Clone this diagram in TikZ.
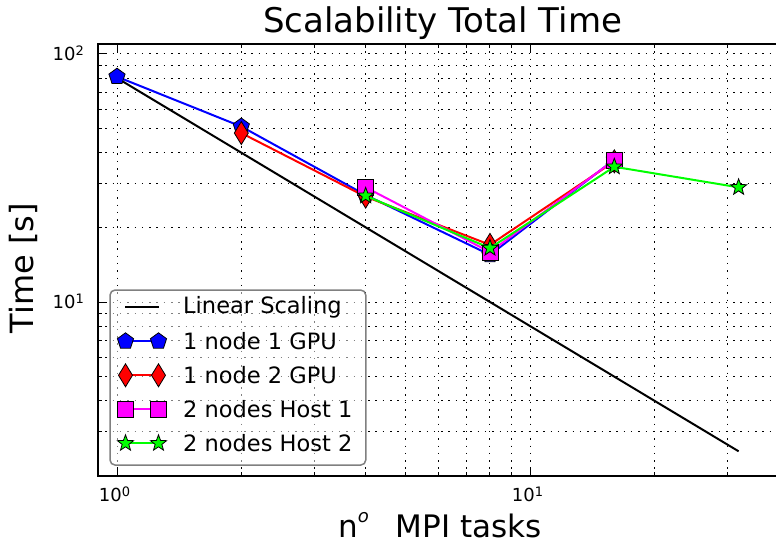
\documentclass[tikz,border=0pt]{standalone}
\usepackage{fontspec}
\setmainfont{DejaVu Sans}
\usetikzlibrary{shapes.geometric}
\definecolor{mpblue}{RGB}{0,0,255}
\definecolor{mpred}{RGB}{255,0,0}
\definecolor{mpmag}{RGB}{255,0,255}
\definecolor{mpgreen}{RGB}{0,255,0}
\definecolor{mpgray}{RGB}{128,128,128}
\newcommand\tenpow[1]{10\raisebox{5pt}{\fontsize{13}{13}\selectfont #1}}
\begin{document}
\begin{tikzpicture}[x=1pt,y=-1pt,
  declare function={px(\v)=117+413*ln(\v)/ln(10); py(\v)=54+248*(2-ln(\v)/ln(10));},
  gridline/.style={black, line width=1pt, dash pattern=on 1.5pt off 5.8pt},
  spine/.style={black, line width=1.5pt},
  tickmark/.style={black, line width=1pt},
  lin/.style={black, line width=2pt},
  ser/.style={line width=2pt},
  mk/.style={draw=black, line width=0.8pt, inner sep=0pt, outer sep=0pt},
  mkpent/.style={mk, fill=mpblue, regular polygon, regular polygon sides=5, minimum size=17pt},
  mkdia/.style={mk, fill=mpred, diamond, minimum width=14pt, minimum height=23pt},
  mksq/.style={mk, fill=mpmag, rectangle, minimum size=16pt},
  mkstar/.style={mk, fill=mpgreen, star, star points=5, star point ratio=2.4, minimum size=17pt},
  ticklab/.style={font=\fontsize{18}{18}\selectfont, inner sep=0pt},
  legtext/.style={font=\fontsize{22.5}{22.5}\selectfont, anchor=west, inner sep=0pt},
]
\useasboundingbox (0,0) rectangle (776,545);
\clip (0,0) rectangle (776,545);
% grid
\foreach \v in {1,2,...,9,10,20,30} \draw[gridline] ({px(\v)},44) -- ({px(\v)},476);
\foreach \v in {3,4,...,9,10,20,30,40,50,60,70,80,90,100} \draw[gridline] (98,{py(\v)}) -- (780,{py(\v)});
% linear scaling
\coordinate (l1) at ({px(1)},{py(80)});
\coordinate (l2) at ({px(32)},{py(2.5)});
\draw[lin] (l1) -- (l2);
% series blue
\coordinate (b1) at ({px(1)},{py(81)});
\coordinate (b2) at ({px(2)},{py(51)});
\coordinate (b4) at ({px(4)},{py(27)});
\coordinate (b8) at ({px(8)},{py(15.5)});
\coordinate (b16) at ({px(16)},{py(37.5)});
\draw[ser, mpblue] (b1) -- (b2) -- (b4) -- (b8) -- (b16);
\foreach \p in {b1,b2,b4,b8,b16} \node[mkpent] (m\p) at (\p) {};
% series red
\coordinate (r2) at ({px(2)},{py(48)});
\coordinate (r4) at ({px(4)},{py(26.6)});
\coordinate (r8) at ({px(8)},{py(17)});
\coordinate (r16) at ({px(16)},{py(36.9)});
\draw[ser, mpred] (r2) -- (r4) -- (r8) -- (r16);
\foreach \p in {r2,r4,r8,r16} \node[mkdia] (m\p) at (\p) {};
% series magenta
\coordinate (s4) at ({px(4)},{py(29)});
\coordinate (s8) at ({px(8)},{py(15.9)});
\coordinate (s16) at ({px(16)},{py(37.4)});
\draw[ser, mpmag] (s4) -- (s8) -- (s16);
\foreach \p in {s4,s8,s16} \node[mksq] (m\p) at (\p) {};
% series green
\coordinate (g4) at ({px(4)},{py(26.8)});
\coordinate (g8) at ({px(8)},{py(16.5)});
\coordinate (g16) at ({px(16)},{py(35.1)});
\coordinate (g32) at ({px(32)},{py(29)});
\draw[ser, mpgreen] (g4) -- (g8) -- (g16) -- (g32);
\foreach \p in {g4,g8,g16,g32} \node[mkstar] (m\p) at (\p) {};
% legend
\node[draw=mpgray, line width=1.5pt, fill=white, fill opacity=0.5, draw opacity=1, rounded corners=5pt,
      minimum width=255.7pt, minimum height=175pt, inner sep=0pt, anchor=north west] (leg) at (109.3,289.3) {};
\coordinate (h1a) at (125,307.3); \coordinate (h1b) at (159,307.3);
\coordinate (h2a) at (125.5,341.3); \coordinate (h2b) at (158.5,341.3);
\coordinate (h3a) at (125.5,375.3); \coordinate (h3b) at (158.5,375.3);
\coordinate (h4a) at (125.5,409.3); \coordinate (h4b) at (158.5,409.3);
\coordinate (h5a) at (125.5,443.3); \coordinate (h5b) at (158.5,443.3);
\draw[lin] (h1a) -- (h1b);
\draw[ser, mpblue] (h2a) -- (h2b);
\node[mkpent] (lp1) at (h2a) {}; \node[mkpent] (lp2) at (h2b) {};
\draw[ser, mpred] (h3a) -- (h3b);
\node[mkdia] (ld1) at (h3a) {}; \node[mkdia] (ld2) at (h3b) {};
\draw[ser, mpmag] (h4a) -- (h4b);
\node[mksq] (ls1) at (h4a) {}; \node[mksq] (ls2) at (h4b) {};
\draw[ser, mpgreen] (h5a) -- (h5b);
\node[mkstar] (lg1) at (h5a) {}; \node[mkstar] (lg2) at (h5b) {};
\node[legtext] (t1) at (183,307.3) {Linear Scaling};
\node[legtext] (t2) at (183,341.3) {1 node 1 GPU};
\node[legtext] (t3) at (183,375.3) {1 node 2 GPU};
\node[legtext] (t4) at (183,409.3) {2 nodes Host 1};
\node[legtext] (t5) at (183,443.3) {2 nodes Host 2};
% ticks
\foreach \v in {2,3,...,9,20,30} {
  \draw[tickmark] ({px(\v)},476) -- ({px(\v)},472);
  \draw[tickmark] ({px(\v)},44) -- ({px(\v)},48);
}
\foreach \v in {1,10} {
  \draw[tickmark] ({px(\v)},476) -- ({px(\v)},468);
  \draw[tickmark] ({px(\v)},44) -- ({px(\v)},52);
}
\foreach \v in {3,4,...,9,20,30,40,50,60,70,80,90} \draw[tickmark] (98,{py(\v)}) -- (102,{py(\v)});
\foreach \v in {10,100} \draw[tickmark] (98,{py(\v)}) -- (106,{py(\v)});
% spines
\draw[spine] (98,476) -- (98,44) -- (779,44) -- (779,476) -- cycle;
% tick labels
\node[ticklab, anchor=base] (x0) at (114.5,501.7) {\tenpow{0}};
\node[ticklab, anchor=base] (x1) at (527.5,501.7) {\tenpow{1}};
\node[ticklab, anchor=base east] (y1) at (84,308.3) {\tenpow{1}};
\node[ticklab, anchor=base east] (y2) at (84,60.3) {\tenpow{2}};
% labels
\node[font=\fontsize{34}{34}\selectfont, anchor=base, inner sep=0pt] (title) at (442.5,33) {Scalability Total Time};
\node[font=\fontsize{32}{32}\selectfont, anchor=base, inner sep=0pt, rotate=90] (ylab) at (33,268) {Time [s]};
\node[font=\fontsize{31}{31}\selectfont, anchor=base, inner sep=0pt] (xlab) at (440,537) {n\raisebox{15pt}{\fontsize{18}{18}\selectfont\itshape o}\hspace{27pt}MPI tasks};
\end{tikzpicture}
\end{document}
